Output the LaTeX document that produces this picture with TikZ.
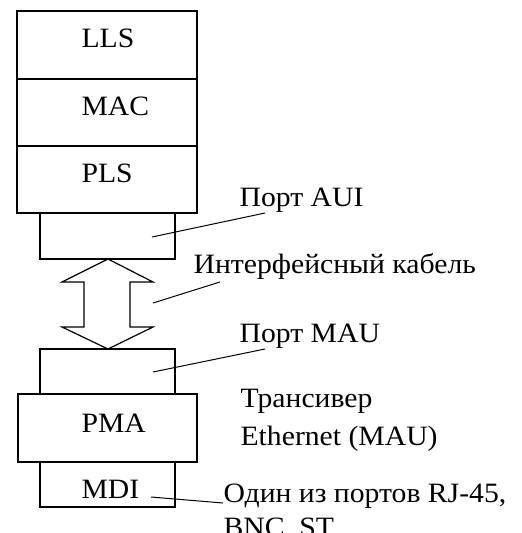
\documentclass[tikz,border=0pt]{standalone}
\usepackage{fontspec}
\setmainfont[FakeStretch=1.06]{Liberation Serif}
\begin{document}
\begin{tikzpicture}[x=1pt,y=-1pt,line width=1.2pt,
  box/.style={draw,rectangle,inner sep=0pt},
  lbl/.style={anchor=base west,inner sep=0pt,font=\fontsize{28}{37}\selectfont}]
\useasboundingbox (0,0) rectangle (522,533);
% boxes
\node[box,minimum width=180pt,minimum height=68pt] (lls) at (107,45) {};
\node[box,minimum width=180pt,minimum height=67pt] (mac) at (107,112.5) {};
\node[box,minimum width=180pt,minimum height=67pt] (pls) at (107,179.5) {};
\node[box,minimum width=135pt,minimum height=46pt] (aui) at (107.5,236) {};
\node[box,minimum width=135pt,minimum height=45pt] (mau) at (107.5,371.5) {};
\node[box,minimum width=179pt,minimum height=68pt] (pma) at (107.5,428) {};
\node[box,minimum width=135pt,minimum height=45pt] (mdi) at (107.5,484.5) {};
% box labels
\node[lbl] (tlls) at (81,47) {LLS};
\node[lbl] (tmac) at (81,115) {MAC};
\node[lbl] (tpls) at (81,182) {PLS};
\node[lbl] (tpma) at (81,432) {PMA};
\node[lbl] (tmdi) at (81,498) {MDI};
% double arrow
\draw (108,259) -- (153,282) -- (130,282) -- (130,327) -- (153,327) -- (108,349)
  -- (62,327) -- (84,327) -- (84,282) -- (62,282) -- cycle;
% notes
\node[lbl] (naui) at (239,206) {Порт AUI};
\node[lbl] (ncab) at (193,273) {Интерфейсный кабель};
\node[lbl] (nmau) at (239,342) {Порт MAU};
\node[lbl] (ntr1) at (240,407) {Трансивер};
\node[lbl] (ntr2) at (240,445) {Ethernet (MAU)};
\node[lbl] (nmdi1) at (223,502) {Один из портов RJ-45,};
\node[lbl] (nmdi2) at (223,536) {BNC, ST};
% leader lines
\coordinate (pa) at (152,237);
\coordinate (ea) at (265,213);
\coordinate (pc) at (153,303);
\coordinate (ec) at (220,282);
\coordinate (pm) at (153,372);
\coordinate (em) at (265,349);
\coordinate (pd) at (151,497);
\coordinate (ed) at (223,503);
\draw[line width=1pt] (pa) -- (ea);
\draw[line width=1pt] (pc) -- (ec);
\draw[line width=1pt] (pm) -- (em);
\draw[line width=1pt] (pd) -- (ed);
\end{tikzpicture}
\end{document}
